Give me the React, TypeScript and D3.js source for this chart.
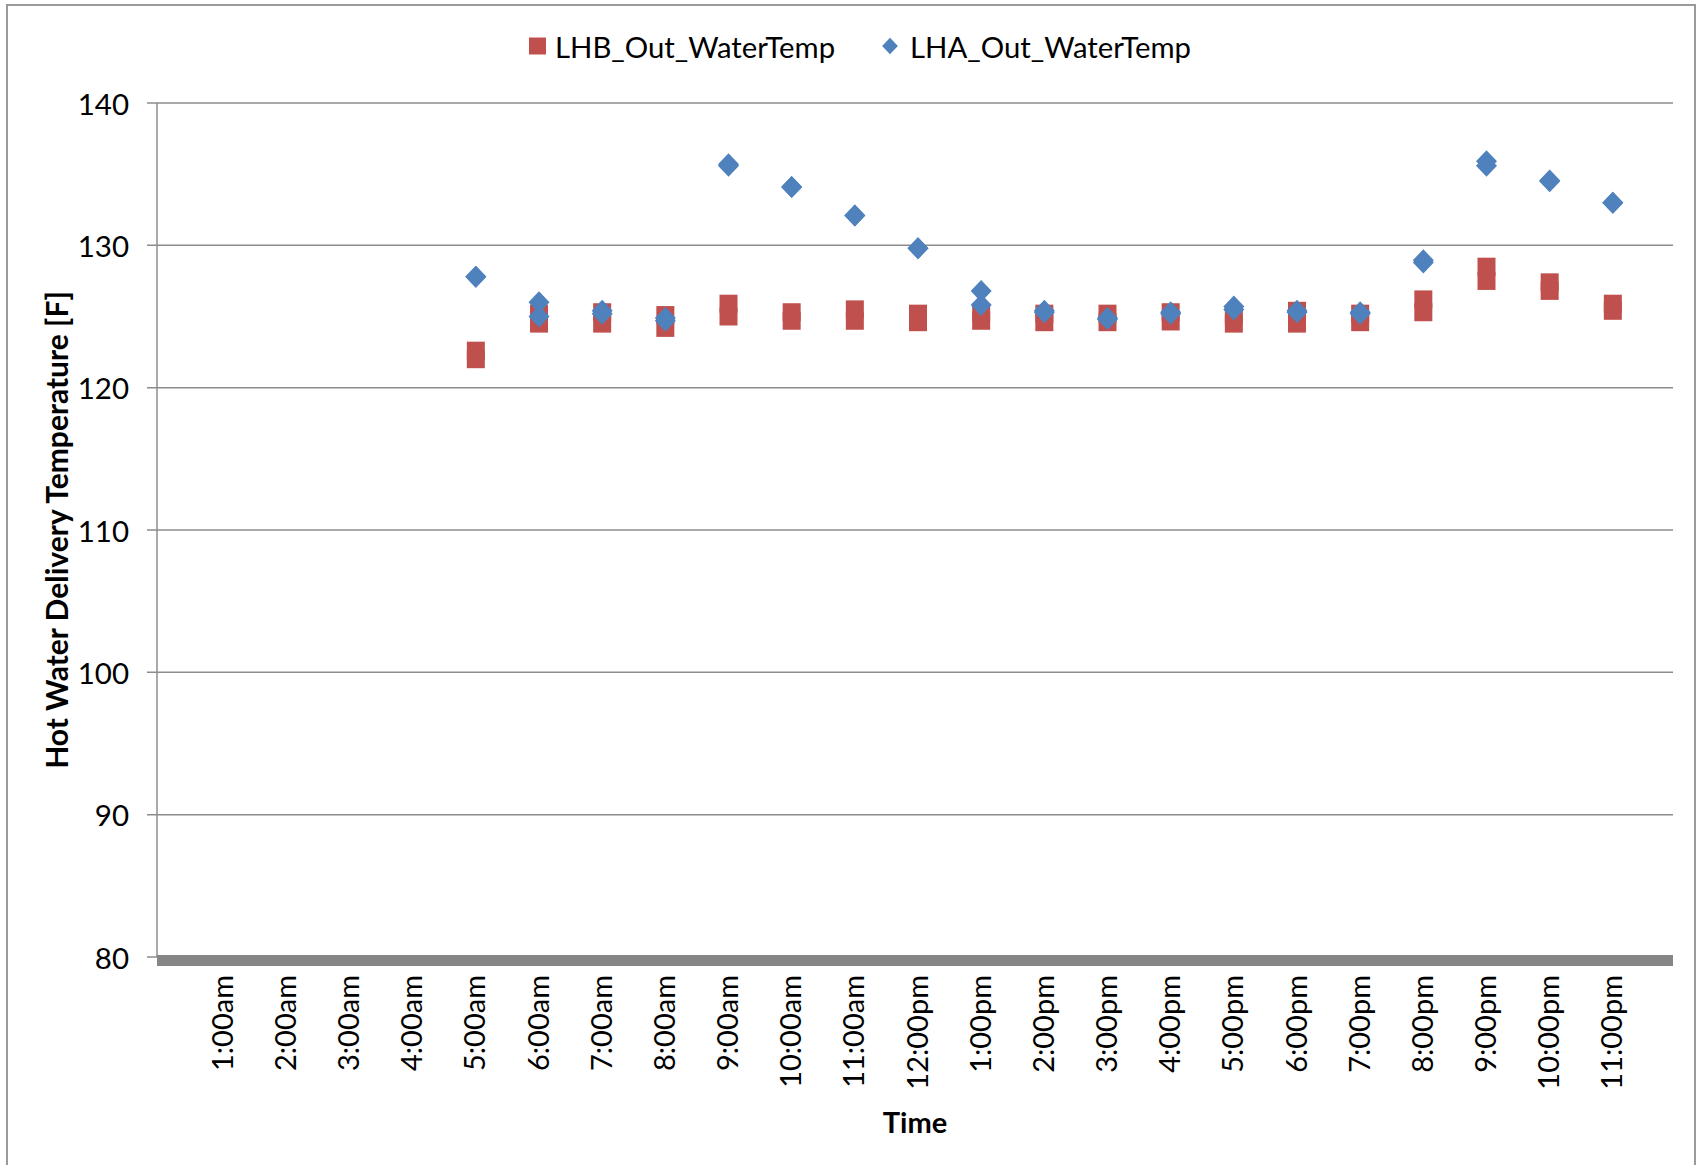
import React from "react";
import * as d3 from "d3";

const hours = [5, 6, 7, 8, 9, 10, 11, 12, 13, 14, 15, 16, 17, 18, 19, 20, 21, 22, 23];

const lhbUpper = [122.6, 125.2, 125.3, 125.1, 125.9, 125.3, 125.5, 125.2, 125.3, 125.2, 125.2, 125.3, 125.1, 125.4, 125.2, 126.2, 128.5, 127.4, 125.9];
const lhbLower = [122.0, 124.5, 124.5, 124.2, 125.0, 124.7, 124.7, 124.6, 124.7, 124.6, 124.6, 124.65, 124.5, 124.5, 124.6, 125.3, 127.5, 126.8, 125.4];

const lhaUpper = [127.8, 126.0, 125.4, 124.9, 135.7, 134.1, 132.1, 129.8, 126.8, 125.4, 124.9, 125.3, 125.7, 125.4, 125.3, 128.95, 135.9, 134.55, 133.0];
const lhaLower = [127.8, 125.0, 125.2, 124.7, 135.6, 134.1, 132.1, 129.8, 125.8, 125.3, 124.8, 125.2, 125.5, 125.3, 125.2, 128.8, 135.6, 134.5, 133.0];

const tickHours = [1, 2, 3, 4, 5, 6, 7, 8, 9, 10, 11, 12, 13, 14, 15, 16, 17, 18, 19, 20, 21, 22, 23];
const tickLabels = [
  "1:00am", "2:00am", "3:00am", "4:00am", "5:00am", "6:00am", "7:00am", "8:00am",
  "9:00am", "10:00am", "11:00am", "12:00pm", "1:00pm", "2:00pm", "3:00pm", "4:00pm",
  "5:00pm", "6:00pm", "7:00pm", "8:00pm", "9:00pm", "10:00pm", "11:00pm",
];
const yTicks = [80, 90, 100, 110, 120, 130, 140];

const seriesNames = ["LHB_Out_WaterTemp", "LHA_Out_WaterTemp"];
const RED = "#C0504D";
const BLUE = "#4F81BD";
const GRID = "#8c8c8c";
const FONT = "Lato, 'Open Sans', sans-serif";

export default function App() {
  const W = 1698;
  const H = 1165;
  const left = 157;
  const right = 1673;
  const top = 103;
  const bottom = 957;

  const x = d3.scaleLinear().domain([0, 24]).range([left + 3, right + 3]);
  const y = d3.scaleLinear().domain([80, 140]).range([bottom, top]);

  const sq = 18;
  const diamond = (cx: number, cy: number, k = 1) => {
    const r = 11 * k;
    const rx = 10.5 * k;
    return `M${cx},${cy - r}L${cx + rx},${cy}L${cx},${cy + r}L${cx - rx},${cy}Z`;
  };

  const redPts: [number, number][] = [];
  hours.forEach((h, i) => {
    redPts.push([h, lhbUpper[i]]);
    redPts.push([h, lhbLower[i]]);
  });
  const bluePts: [number, number][] = [];
  hours.forEach((h, i) => {
    bluePts.push([h, lhaUpper[i]]);
    bluePts.push([h, lhaLower[i]]);
  });

  return (
    <svg
      width={W}
      height={H}
      style={{ position: "absolute", left: 0, top: 0, background: "#fff" }}
      fontFamily={FONT}
    >
      <rect x={7} y={5} width={1688} height={1200} fill="#fff" stroke="#9a9a9a" strokeWidth={2} />

      {/* gridlines */}
      {yTicks.filter((t) => t !== 80).map((t) => (
        <line key={t} x1={left - 10} x2={right} y1={y(t)} y2={y(t)} stroke={GRID} strokeWidth={1.5} />
      ))}
      <line x1={left - 10} x2={left} y1={y(80)} y2={y(80)} stroke={GRID} strokeWidth={1.5} />
      {/* y axis */}
      <line x1={left} x2={left} y1={top} y2={bottom} stroke={GRID} strokeWidth={1.5} />
      {/* thick x axis bar */}
      <rect x={left} y={y(80) - 2} width={right - left} height={11} fill="#868686" />

      {/* y tick labels */}
      {yTicks.map((t) => (
        <text key={t} x={129} y={y(t)} textAnchor="end" dominantBaseline="central" fontSize={29.5} fill="#000">
          {t}
        </text>
      ))}

      {/* x tick labels */}
      {tickHours.map((h, i) => (
        <text
          key={h}
          transform={`translate(${x(h) - 2},975) rotate(-90)`}
          textAnchor="end"
          dominantBaseline="central"
          fontSize={29}
          fill="#000"
        >
          {tickLabels[i]}
        </text>
      ))}

      {/* axis titles */}
      <text
        transform={`translate(56,${(top + bottom) / 2}) rotate(-90)`}
        textAnchor="middle"
        dominantBaseline="central"
        fontSize={30}
        fontWeight="bold"
        fill="#000"
      >
        Hot Water Delivery Temperature [F]
      </text>
      <text x={(left + right) / 2} y={1133} textAnchor="middle" fontSize={29} fontWeight="bold" fill="#000">
        Time
      </text>

      {/* markers */}
      {redPts.map(([h, v], i) => (
        <rect key={"r" + i} x={x(h) - sq / 2} y={y(v) - sq / 2} width={sq} height={sq} fill={RED} />
      ))}
      {bluePts.map(([h, v], i) => (
        <path key={"b" + i} d={diamond(x(h), y(v))} fill={BLUE} />
      ))}

      {/* legend */}
      <rect x={529} y={37.5} width={17} height={17} fill={RED} />
      <text x={555} y={46} dominantBaseline="central" fontSize={29.3} fill="#000">
        {seriesNames[0]}
      </text>
      <path d={diamond(890, 46, 0.75)} fill={BLUE} />
      <text x={910} y={46} dominantBaseline="central" fontSize={29.3} fill="#000">
        {seriesNames[1]}
      </text>
    </svg>
  );
}
